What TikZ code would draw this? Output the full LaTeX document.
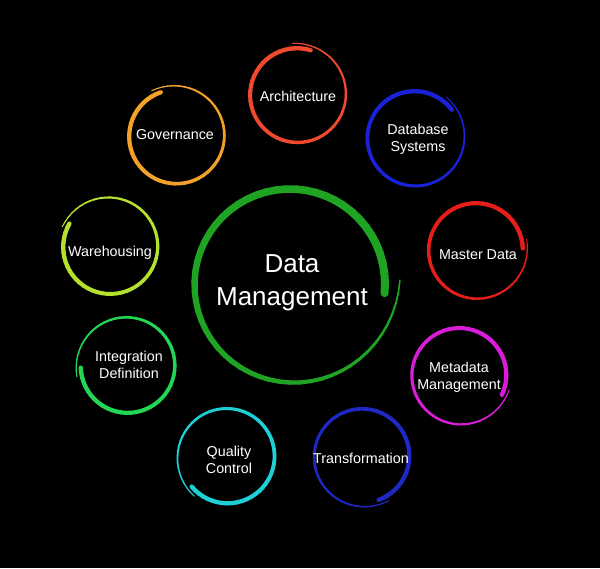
\documentclass[tikz,border=0pt]{standalone}
\usepackage{fontspec}
\setmainfont{Liberation Sans}
\definecolor{cMain}{HTML}{1FA323}
\definecolor{cArch}{HTML}{EF4A2F}
\definecolor{cDbs}{HTML}{1A22D8}
\definecolor{cMdat}{HTML}{E61E1A}
\definecolor{cMeta}{HTML}{D81CD8}
\definecolor{cTrans}{HTML}{2028C4}
\definecolor{cQual}{HTML}{1ECFD6}
\definecolor{cInteg}{HTML}{22D655}
\definecolor{cWare}{HTML}{B5E02D}
\definecolor{cGov}{HTML}{F2A22A}
% #1 centre, #2 radius, #3 start angle, #4 radius growth, #5 overlap angle,
% #6 max width, #7 min width, #8 colour, #9 growth exponent
\newcommand{\brushring}[9]{%
  \foreach \i in {0,...,59}{%
    \pgfmathsetmacro{\tA}{\i/60}%
    \pgfmathsetmacro{\tB}{(\i+1)/60}%
    \pgfmathsetmacro{\tM}{(\i+0.5)/60}%
    \pgfmathsetmacro{\angA}{#3+(360+#5)*\tA}%
    \pgfmathsetmacro{\angB}{#3+(360+#5)*\tB}%
    \pgfmathsetmacro{\radA}{#2+#4*\tA^#9}%
    \pgfmathsetmacro{\radB}{#2+#4*\tB^#9}%
    \pgfmathsetmacro{\wid}{#7+(#6-#7)*(1-\tM^2)}%
    \draw[draw=#8, line width=\wid pt, line cap=round]
      ([shift={(\angA:\radA pt)}]#1) -- ([shift={(\angB:\radB pt)}]#1);
  }%
}
\begin{document}
\begin{tikzpicture}[x=1pt,y=1pt,
  lbl/.style={text=white, align=center, inner sep=0pt, anchor=base,
    font=\fontsize{14.3}{16.6}\selectfont},
  bigl/.style={text=white, align=center, inner sep=0pt, anchor=base,
    font=\fontsize{26}{33}\selectfont}]
\fill[black] (0,0) rectangle (600,568);
\useasboundingbox (0,0) rectangle (600,568);
% ring centres
\coordinate (main)  at (290,284);
\coordinate (arch)  at (297,473);
\coordinate (dbs)   at (414.5,430);
\coordinate (mdat)  at (476,318);
\coordinate (meta)  at (459.5,193);
\coordinate (trans) at (362.5,112);
\coordinate (qual)  at (227.5,111.5);
\coordinate (ware)  at (110,321);
\coordinate (integ) at (127.5,202);
\coordinate (gov)   at (176,431.5);
% brush rings
\brushring{main}{95}{-5.5}{15}{7.5}{8}{1.5}{cMain}{5}
\brushring{arch}{46.8}{73}{5}{22}{4.3}{1}{cArch}{3}
\brushring{dbs}{46.8}{37}{5}{15}{4.3}{1}{cDbs}{3}
\brushring{mdat}{46.8}{2}{5}{10}{4.3}{1}{cMdat}{3}
\brushring{meta}{46.8}{-25}{5}{8}{4.3}{1}{cMeta}{3}
\brushring{trans}{46.8}{-70}{5}{10}{4.3}{1}{cTrans}{3}
\brushring{qual}{46.8}{220}{5}{10}{4.3}{1}{cQual}{3}
\brushring{ware}{46.8}{150}{5}{7}{4.3}{1}{cWare}{3}
\brushring{integ}{46.8}{182}{5}{10}{4.3}{1}{cInteg}{3}
\brushring{gov}{46.8}{109}{5}{9}{4.3}{1}{cGov}{3}
% labels (base anchor = baseline of the last line)
\node[bigl] (mainT) at (292,262) {Data\\Management};
\node[lbl] (archT)  at (298,466.3) {Architecture};
\node[lbl] (dbsT)   at (418,416.4) {Database\\Systems};
\node[lbl] (mdatT)  at (478,308) {Master Data};
\node[lbl] (metaT)  at (459,178.7) {Metadata\\Management};
\node[lbl] (transT) at (361,104.7) {Transformation};
\node[lbl] (qualT)  at (229,94.7) {Quality\\Control};
\node[lbl] (wareT)  at (110,311.3) {Warehousing};
\node[lbl] (integT) at (129,189.7) {Integration\\Definition};
\node[lbl] (govT)   at (175,428.7) {Governance};
\end{tikzpicture}
\end{document}
